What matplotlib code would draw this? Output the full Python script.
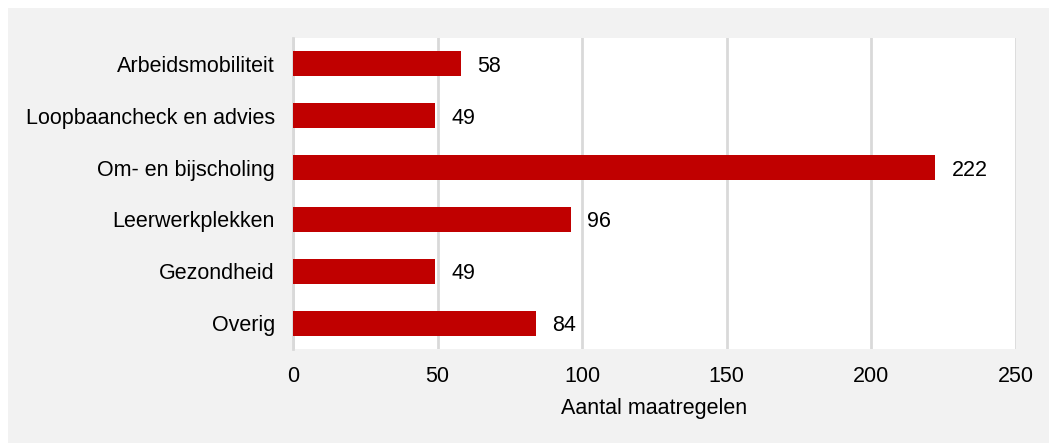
import matplotlib.pyplot as plt
from matplotlib.patches import Rectangle

categories = ['Arbeidsmobiliteit', 'Loopbaancheck en advies', 'Om- en bijscholing',
              'Leerwerkplekken', 'Gezondheid', 'Overig']
values = [58, 49, 222, 96, 49, 84]
xticks = [0, 50, 100, 150, 200, 250]

plt.rcParams['font.family'] = ['Liberation Sans', 'DejaVu Sans']

fig = plt.figure(figsize=(10.49, 4.43), dpi=100)
fig.patch.set_facecolor('white')
# grey panel behind everything
fig.patches.append(Rectangle((8 / 1049, 0), 1, (443 - 8) / 443,
                             transform=fig.transFigure, facecolor='#f2f2f2',
                             edgecolor='none', zorder=-10))

ax = fig.add_axes([293 / 1049, 94 / 443, 723 / 1049, 311 / 443])
ax.set_facecolor('white')

ypos = list(range(len(categories)))
ax.barh(ypos, values, height=0.48, color='#c00000', zorder=3)
for y, v in zip(ypos, values):
    ax.annotate(str(v), (v, y), xytext=(12, 0), textcoords='offset points',
                va='center_baseline', ha='left', fontsize=15.5, color='black')

ax.set_ylim(len(categories) - 0.5, -0.5)
ax.set_xlim(0, 250)
ax.set_xticks(xticks)
ax.set_yticks(ypos)
ax.set_yticklabels(categories)
ax.tick_params(axis='both', length=0, labelsize=15.5, colors='black')
ax.tick_params(axis='y', pad=13)
ax.tick_params(axis='x', pad=12)
ax.set_xlabel('Aantal maatregelen', fontsize=15.5, labelpad=8)

ax.grid(axis='x', color='#d9d9d9', linewidth=2, zorder=0)
for s in ['top', 'right', 'bottom']:
    ax.spines[s].set_visible(False)
ax.spines['left'].set_color('#d9d9d9')
ax.spines['left'].set_linewidth(2)

fig.savefig('out.png', dpi=100, facecolor=fig.get_facecolor())
